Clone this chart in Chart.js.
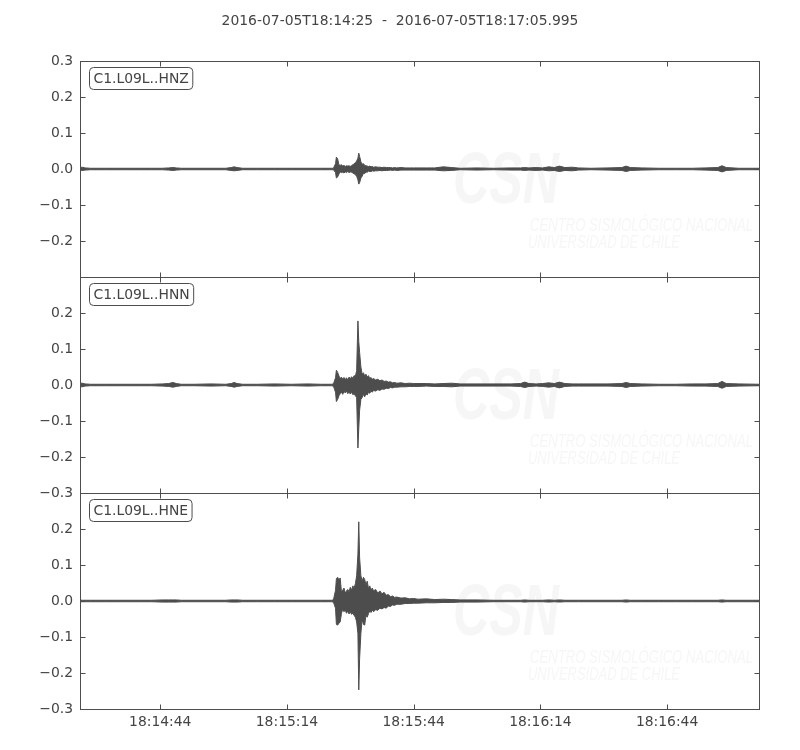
<!DOCTYPE html>
<html>
<head>
<meta charset="utf-8">
<script src="https://cdn.jsdelivr.net/npm/chart.js@4.4.1/dist/chart.umd.min.js"></script>
<style>
  body { margin: 0; background: #fff; }
</style>
</head>
<body>
<canvas id="seis" width="800" height="750"></canvas>
<script>
// x values are seconds after the trace start (18:14:25)
var startLabel = "2016-07-05T18:14:25";
var endLabel = "2016-07-05T18:17:05.995";
var duration = 160.995;
var channels = ["C1.L09L..HNZ", "C1.L09L..HNN", "C1.L09L..HNE"];
var xTickSecs = [19, 49, 79, 109, 139];
var xTickLabels = ["18:14:44", "18:15:14", "18:15:44", "18:16:14", "18:16:44"];
var yTickVals = [-0.3, -0.2, -0.1, 0, 0.1, 0.2, 0.3];

var secs = [
  0, 0.5, 1.2, 2.5, 6, 10, 14, 17, 19.5, 21,
  22, 22.8, 24, 27, 31, 34.5, 35.8, 36.5, 37.2, 38.5,
  42, 46, 50, 54, 57, 59.5,
  60, 60.5, 60.7, 61, 61.3, 61.6, 61.9, 62.2, 62.5, 62.8,
  63.1, 63.4, 63.7, 64, 64.3, 64.6, 64.9, 65.2, 65.5, 65.8,
  66, 66.2, 66.5, 66.8, 67.1, 67.4, 67.7, 68, 68.3, 68.6,
  68.9, 69.2, 69.5, 70, 70.5, 71, 71.5, 72, 72.5, 73,
  73.5, 74, 74.5, 75, 76, 77, 78, 79, 80, 82,
  84, 86, 88, 90,
  94, 98, 102, 104.3, 105.3, 106.3, 108, 109.5, 111, 112.3,
  113.5, 114.8, 116.5, 118, 121, 125, 128.3, 129.3, 130.3, 133,
  137, 141, 145, 148, 151, 152, 153, 156, 161
];

// upper / lower envelope of each channel
var hnzTop = [
  0.004, 0.005, 0.003, 0.002, 0.002, 0.002, 0.002, 0.002, 0.002, 0.003,
  0.004, 0.003, 0.002, 0.002, 0.002, 0.002, 0.004, 0.006, 0.004, 0.002,
  0.002, 0.002, 0.002, 0.002, 0.002, 0.002,
  0.002, 0.015, 0.033, 0.028, 0.012, 0.010, 0.012, 0.008, 0.010, 0.007,
  0.009, 0.008, 0.009, 0.007, 0.010, 0.012, 0.014, 0.018, 0.022, 0.030,
  0.044, 0.035, 0.020, 0.013, 0.015, 0.010, 0.009, 0.008, 0.007, 0.008,
  0.006, 0.007, 0.005, 0.006, 0.005, 0.005, 0.004, 0.005, 0.004, 0.004,
  0.004, 0.003, 0.004, 0.003, 0.004, 0.003, 0.003, 0.003, 0.003, 0.003,
  0.003, 0.006, 0.004, 0.002,
  0.003, 0.002, 0.003, 0.003, 0.004, 0.003, 0.004, 0.003, 0.006, 0.004,
  0.008, 0.004, 0.005, 0.003, 0.002, 0.003, 0.004, 0.008, 0.004, 0.003,
  0.002, 0.002, 0.002, 0.003, 0.004, 0.009, 0.004, 0.002, 0.002
];
var hnzBot = [
  -0.003, -0.004, -0.003, -0.002, -0.002, -0.002, -0.002, -0.002, -0.002, -0.003,
  -0.004, -0.003, -0.002, -0.002, -0.002, -0.002, -0.004, -0.005, -0.004, -0.002,
  -0.002, -0.002, -0.002, -0.002, -0.002, -0.002,
  -0.002, -0.010, -0.025, -0.022, -0.014, -0.008, -0.010, -0.009, -0.011, -0.008,
  -0.010, -0.007, -0.010, -0.008, -0.009, -0.011, -0.013, -0.016, -0.020, -0.030,
  -0.042, -0.038, -0.025, -0.020, -0.012, -0.013, -0.008, -0.009, -0.006, -0.007,
  -0.007, -0.005, -0.006, -0.005, -0.005, -0.004, -0.005, -0.004, -0.004, -0.004,
  -0.003, -0.004, -0.003, -0.004, -0.003, -0.003, -0.003, -0.003, -0.003, -0.003,
  -0.003, -0.005, -0.004, -0.002,
  -0.003, -0.002, -0.003, -0.003, -0.004, -0.003, -0.004, -0.003, -0.005, -0.004,
  -0.007, -0.004, -0.005, -0.003, -0.002, -0.003, -0.004, -0.007, -0.004, -0.003,
  -0.002, -0.002, -0.002, -0.003, -0.004, -0.008, -0.004, -0.002, -0.002
];
var hnnTop = [
  0.005, 0.005, 0.003, 0.002, 0.002, 0.002, 0.002, 0.002, 0.003, 0.004,
  0.007, 0.004, 0.002, 0.002, 0.003, 0.002, 0.004, 0.007, 0.004, 0.002,
  0.002, 0.003, 0.002, 0.003, 0.002, 0.002,
  0.003, 0.020, 0.041, 0.035, 0.025, 0.018, 0.022, 0.016, 0.021, 0.015,
  0.020, 0.014, 0.022, 0.017, 0.023, 0.019, 0.026, 0.024, 0.040, 0.178,
  0.120, 0.090, 0.050, 0.030, 0.034, 0.025, 0.030, 0.022, 0.026, 0.018,
  0.021, 0.016, 0.018, 0.014, 0.016, 0.012, 0.014, 0.010, 0.011, 0.008,
  0.009, 0.006, 0.007, 0.005, 0.006, 0.004, 0.005, 0.004, 0.004, 0.004,
  0.003, 0.004, 0.005, 0.003,
  0.003, 0.003, 0.003, 0.004, 0.008, 0.004, 0.003, 0.004, 0.006, 0.004,
  0.008, 0.004, 0.003, 0.003, 0.003, 0.003, 0.004, 0.007, 0.004, 0.003,
  0.002, 0.002, 0.003, 0.003, 0.004, 0.010, 0.004, 0.003, 0.002
];
var hnnBot = [
  -0.005, -0.005, -0.003, -0.002, -0.002, -0.002, -0.002, -0.002, -0.003, -0.004,
  -0.006, -0.004, -0.002, -0.002, -0.003, -0.002, -0.004, -0.006, -0.004, -0.002,
  -0.002, -0.003, -0.002, -0.003, -0.002, -0.002,
  -0.003, -0.020, -0.046, -0.040, -0.030, -0.024, -0.020, -0.026, -0.018, -0.022,
  -0.017, -0.024, -0.020, -0.025, -0.019, -0.027, -0.024, -0.030, -0.035, -0.175,
  -0.120, -0.070, -0.040, -0.035, -0.026, -0.033, -0.024, -0.028, -0.020, -0.023,
  -0.017, -0.020, -0.015, -0.017, -0.013, -0.015, -0.011, -0.012, -0.009, -0.010,
  -0.007, -0.008, -0.006, -0.006, -0.005, -0.005, -0.004, -0.004, -0.004, -0.003,
  -0.004, -0.004, -0.005, -0.003,
  -0.003, -0.003, -0.003, -0.004, -0.007, -0.004, -0.003, -0.004, -0.006, -0.004,
  -0.008, -0.004, -0.003, -0.003, -0.003, -0.003, -0.004, -0.007, -0.004, -0.003,
  -0.002, -0.002, -0.003, -0.003, -0.004, -0.009, -0.004, -0.003, -0.002
];
var hneTop = [
  0.003, 0.002, 0.002, 0.002, 0.002, 0.002, 0.002, 0.002, 0.003, 0.003,
  0.003, 0.003, 0.002, 0.002, 0.002, 0.002, 0.003, 0.003, 0.003, 0.002,
  0.002, 0.002, 0.002, 0.002, 0.002, 0.002,
  0.003, 0.030, 0.062, 0.066, 0.058, 0.064, 0.025, 0.030, 0.036, 0.022,
  0.028, 0.032, 0.026, 0.038, 0.030, 0.042, 0.036, 0.048, 0.070, 0.130,
  0.220, 0.120, 0.070, 0.055, 0.066, 0.060, 0.045, 0.055, 0.035, 0.042,
  0.030, 0.036, 0.028, 0.032, 0.022, 0.028, 0.020, 0.024, 0.016, 0.018,
  0.012, 0.014, 0.010, 0.011, 0.008, 0.009, 0.006, 0.007, 0.005, 0.006,
  0.004, 0.005, 0.004, 0.003,
  0.003, 0.002, 0.002, 0.002, 0.003, 0.002, 0.002, 0.002, 0.003, 0.002,
  0.003, 0.002, 0.002, 0.002, 0.002, 0.002, 0.002, 0.003, 0.002, 0.002,
  0.002, 0.002, 0.002, 0.002, 0.002, 0.003, 0.002, 0.002, 0.002
];
var hneBot = [
  -0.003, -0.002, -0.002, -0.002, -0.002, -0.002, -0.002, -0.002, -0.003, -0.003,
  -0.003, -0.003, -0.002, -0.002, -0.002, -0.002, -0.003, -0.003, -0.003, -0.002,
  -0.002, -0.002, -0.002, -0.002, -0.002, -0.002,
  -0.003, -0.020, -0.065, -0.067, -0.062, -0.058, -0.035, -0.022, -0.030, -0.025,
  -0.034, -0.028, -0.036, -0.030, -0.037, -0.034, -0.040, -0.045, -0.058, -0.090,
  -0.247, -0.160, -0.090, -0.050, -0.065, -0.067, -0.040, -0.045, -0.035, -0.028,
  -0.032, -0.025, -0.030, -0.024, -0.026, -0.020, -0.022, -0.018, -0.020, -0.014,
  -0.015, -0.011, -0.012, -0.009, -0.009, -0.007, -0.007, -0.006, -0.006, -0.005,
  -0.005, -0.004, -0.004, -0.003,
  -0.003, -0.002, -0.002, -0.002, -0.003, -0.002, -0.002, -0.002, -0.003, -0.002,
  -0.003, -0.002, -0.002, -0.002, -0.002, -0.002, -0.002, -0.003, -0.002, -0.002,
  -0.002, -0.002, -0.002, -0.002, -0.002, -0.003, -0.002, -0.002, -0.002
];

var traceColor = "#4d4d4d";
var textColor = "#444";
var panelIds = ["yZ", "yN", "yE"];

function pts(vals) {
  return secs.map(function (t, i) { return { x: t, y: vals[i] }; });
}

function envelope(top, bot, axis) {
  return [
    { data: pts(top), yAxisID: axis, fill: "+1", backgroundColor: traceColor, borderColor: traceColor },
    { data: pts(bot), yAxisID: axis, fill: false, borderColor: traceColor }
  ];
}

function yLabel(hidden) {
  return function (v) {
    if (Math.abs(v - hidden) < 1e-6) return "";
    var s = Math.abs(v).toFixed(1);
    return v < -1e-9 ? "\u2212" + s : s;
  };
}

function yAxis(hidden) {
  return {
    type: "linear", position: "left", stack: "traces", stackWeight: 1,
    min: -0.3, max: 0.3,
    grid: { display: false, drawTicks: false },
    border: { display: false },
    ticks: {
      autoSkip: false, padding: 7, color: textColor,
      font: { family: "DejaVu Sans", size: 13.9 }, callback: yLabel(hidden)
    },
    afterBuildTicks: function (s) { s.ticks = yTickVals.map(function (v) { return { value: v }; }); },
    afterFit: function (s) { s.width = 80; }
  };
}

function roundBox(ctx, x, y, w, h, r) {
  ctx.beginPath();
  ctx.moveTo(x + r, y);
  ctx.arcTo(x + w, y, x + w, y + h, r);
  ctx.arcTo(x + w, y + h, x, y + h, r);
  ctx.arcTo(x, y + h, x, y, r);
  ctx.arcTo(x, y, x + w, y, r);
  ctx.closePath();
}

var panelPlugin = {
  id: "panels",
  beforeDatasetsDraw: function (chart) {
    // faint CSN watermark
    var ctx = chart.ctx;
    ctx.save();
    ctx.fillStyle = "#f6f6f6";
    ctx.textBaseline = "alphabetic";
    panelIds.forEach(function (id) {
      var top = chart.scales[id].top;
      ctx.font = 'italic bold 72px "Liberation Sans Narrow", "Liberation Sans"';
      ctx.fillText("CSN", 453, top + 142, 106);
      ctx.font = 'italic 18px "Liberation Sans Narrow", "Liberation Sans"';
      ctx.fillText("CENTRO SISMOLÓGICO NACIONAL", 530, top + 170, 223);
      ctx.fillText("UNIVERSIDAD DE CHILE", 528, top + 187, 152);
    });
    ctx.restore();
  },
  afterDraw: function (chart) {
    var ctx = chart.ctx, area = chart.chartArea, xs = chart.scales.x;
    var left = Math.round(area.left) + 0.5, right = Math.round(area.right) - 0.5;
    ctx.save();

    // title, centred on the page
    ctx.fillStyle = textColor;
    ctx.font = '13.9px "DejaVu Sans"';
    ctx.textAlign = "center";
    ctx.textBaseline = "middle";
    ctx.fillText(startLabel + "  -  " + endLabel, 400, 21);
    ctx.textAlign = "left";

    ctx.strokeStyle = traceColor;
    ctx.lineWidth = 1;
    panelIds.forEach(function (id, k) {
      var ys = chart.scales[id];
      var top = Math.round(ys.top) + 0.5, bot = Math.round(ys.bottom) + 0.5;
      ctx.strokeRect(left, top, right - left, bot - top);
      ctx.beginPath();
      yTickVals.forEach(function (v) {
        var y = Math.round(ys.getPixelForValue(v)) + 0.5;
        ctx.moveTo(left, y); ctx.lineTo(left + 5, y);
        ctx.moveTo(right, y); ctx.lineTo(right - 5, y);
      });
      xTickSecs.forEach(function (v) {
        var x = Math.round(xs.getPixelForValue(v)) + 0.5;
        ctx.moveTo(x, top); ctx.lineTo(x, top + 5);
        ctx.moveTo(x, bot); ctx.lineTo(x, bot - 5);
      });
      ctx.stroke();

      ctx.font = '13.9px "DejaVu Sans"';
      var w = ctx.measureText(channels[k]).width + 8;
      var bx = left + 9, by = top + 6;
      roundBox(ctx, bx, by, w, 22, 4);
      ctx.fillStyle = "#fff";
      ctx.fill();
      ctx.stroke();
      ctx.fillStyle = textColor;
      ctx.textBaseline = "middle";
      ctx.fillText(channels[k], bx + 4, by + 11.5);
    });
    ctx.restore();
  }
};

var datasets = [].concat(
  envelope(hnzTop, hnzBot, "yZ"),
  envelope(hnnTop, hnnBot, "yN"),
  envelope(hneTop, hneBot, "yE")
);

new Chart(document.getElementById("seis"), {
  type: "line",
  data: { datasets: datasets },
  options: {
    responsive: false,
    animation: false,
    layout: { padding: { top: 61, right: 40, bottom: 0, left: 0 } },
    elements: {
      point: { radius: 0 },
      line: { borderWidth: 1, tension: 0, borderJoinStyle: "round" }
    },
    plugins: {
      legend: { display: false },
      tooltip: { enabled: false },
      title: { display: false }
    },
    scales: {
      x: {
        type: "linear", position: "bottom", min: 0, max: duration,
        grid: { display: false, drawTicks: false },
        border: { display: false },
        ticks: {
          autoSkip: false, maxRotation: 0, padding: 5, color: textColor,
          font: { family: "DejaVu Sans", size: 13.9 },
          callback: function (v) { return xTickLabels[xTickSecs.indexOf(v)]; }
        },
        afterBuildTicks: function (s) { s.ticks = xTickSecs.map(function (v) { return { value: v }; }); },
        afterFit: function (s) { s.height = 41; }
      },
      yE: yAxis(0.3),
      yN: yAxis(0.3),
      yZ: yAxis(-0.3)
    }
  },
  plugins: [panelPlugin]
});
</script>
</body>
</html>
